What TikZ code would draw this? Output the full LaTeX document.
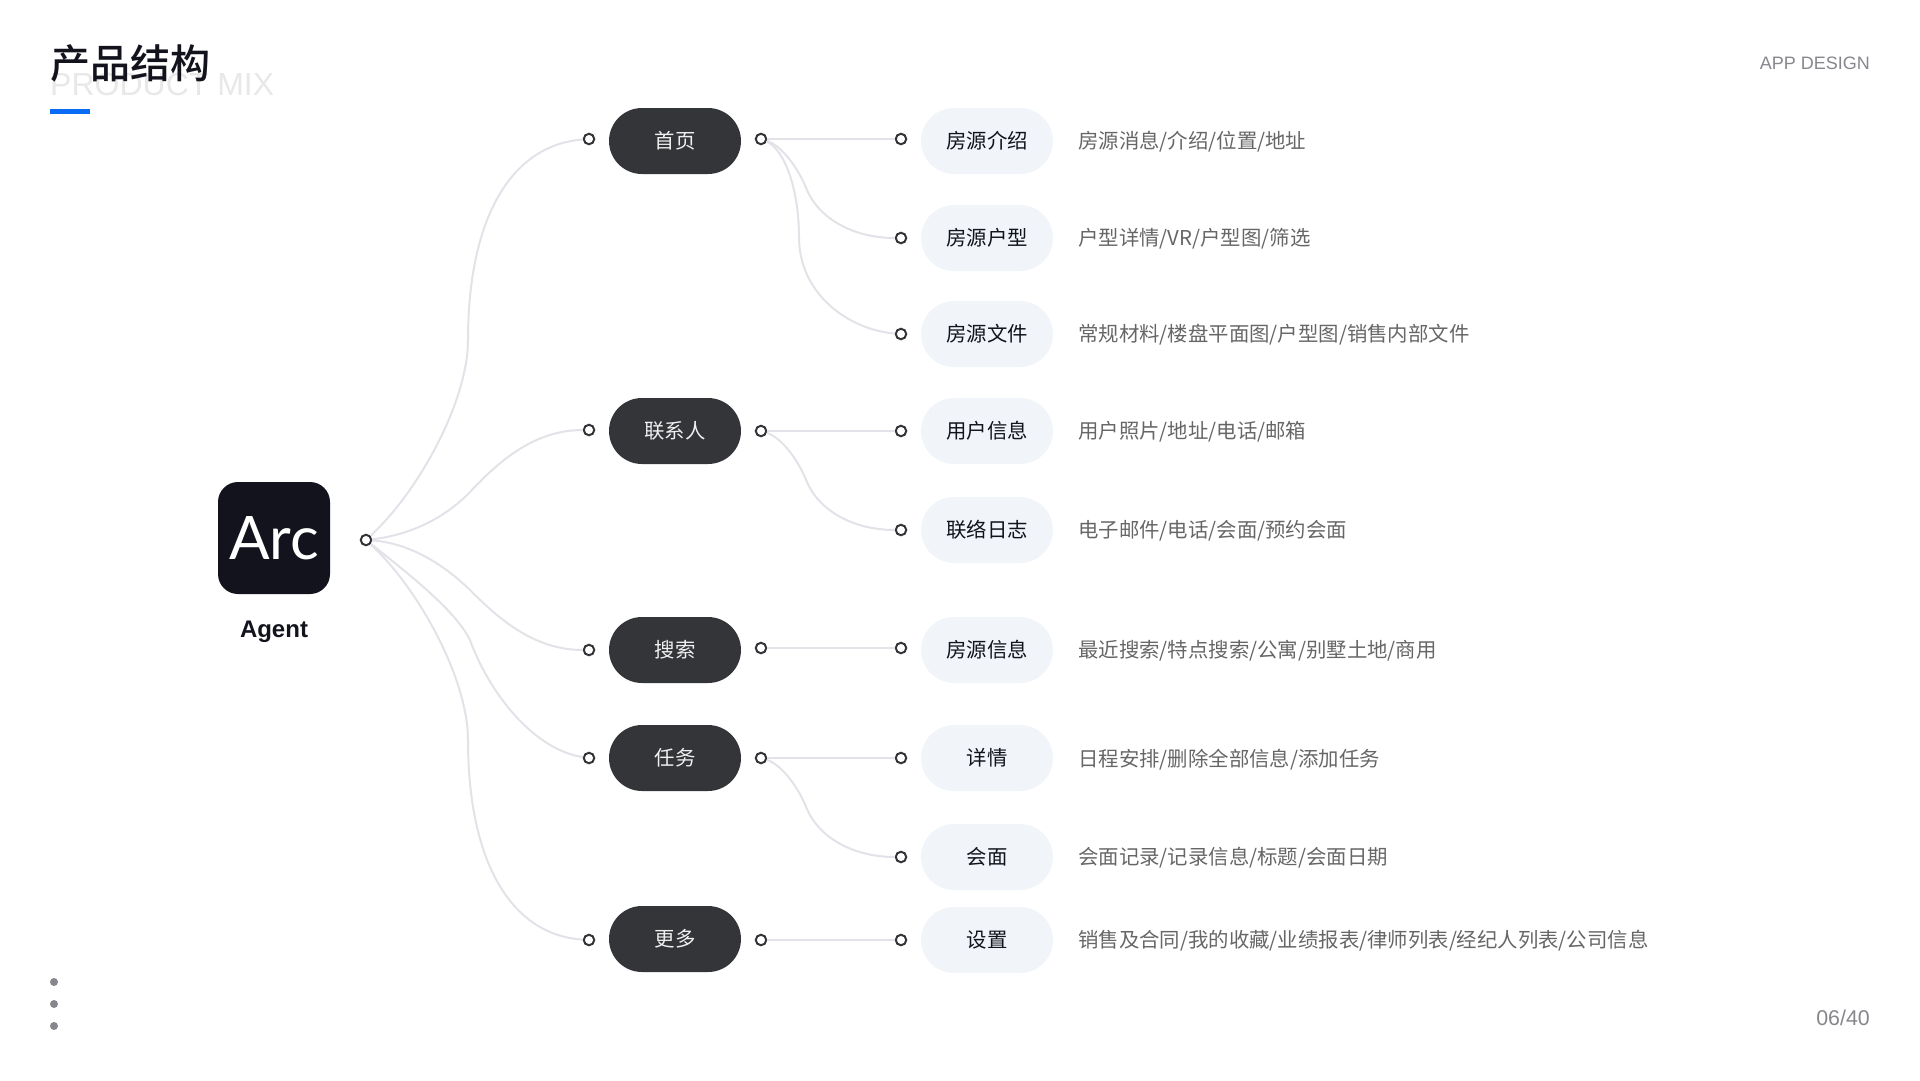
\documentclass[tikz,border=0pt]{standalone}
\usepackage{fontspec}
\setmainfont{Noto Sans CJK SC}
\newfontfamily\titlefont{Noto Sans CJK SC Medium}
\newfontfamily\latinfont{Liberation Sans}
\newfontfamily\logofont{Lato}
\definecolor{inkdark}{HTML}{12131C}
\definecolor{pilldark}{HTML}{333538}
\definecolor{pilllight}{HTML}{F1F4F8}
\definecolor{linkgrey}{HTML}{E2E2E8}
\definecolor{textgrey}{HTML}{666666}
\definecolor{cornergrey}{HTML}{86868C}
\definecolor{barblue}{HTML}{0A6CF5}
\tikzset{
  darkpill/.style={fill=pilldark,text=white!94!black,rounded corners=33pt,minimum width=132pt,minimum height=66pt,inner sep=0pt,font=\fontsize{20.4}{24}\selectfont},
  lightpill/.style={fill=pilllight,text=inkdark,rounded corners=33pt,minimum width=132pt,minimum height=66pt,inner sep=0pt,font=\fontsize{20.4}{24}\selectfont},
  port/.style={circle,draw=pilldark,line width=2pt,fill=white,minimum size=10.5pt,inner sep=0pt},
  dot/.style={circle,fill=cornergrey,minimum size=8pt,inner sep=0pt},
  desc/.style={anchor=west,inner sep=0pt,text=textgrey,font=\fontsize{20.4}{24}\selectfont},
  corner/.style={anchor=east,inner sep=0pt,text=cornergrey},
  link/.style={draw=linkgrey,line width=2pt}
}
\begin{document}
\begin{tikzpicture}[x=1pt,y=-1pt]
\useasboundingbox (0,0) rectangle (1920,1080);
\path
(50,84)node[anchor=west,inner sep=0pt,text=black!9,font=\latinfont\fontsize{32}{40}\selectfont](titleen){PRODUCT MIX}
(50,63)node[anchor=west,inner sep=0pt,text=inkdark,font=\titlefont\fontsize{40}{48}\selectfont](titlecn){产品结构}
(50,109)node[anchor=north west,fill=barblue,inner sep=0pt,minimum width=40pt,minimum height=5pt](titlebar){}
(1870,63)node[corner,font=\latinfont\fontsize{18}{24}\selectfont](chapter){APP DESIGN}
(1870,1018)node[corner,font=\latinfont\fontsize{21.4}{24}\selectfont](pageno){06/40}
(54,982)node[dot](dota){}
(54,1004)node[dot](dotb){}
(54,1026)node[dot](dotc){}
(274,538)node[fill=inkdark,rounded corners=20pt,minimum size=112pt,inner sep=0pt,text=white,font=\logofont\fontsize{60}{60}\selectfont](logo){Arc}
(274,631.5)node[inner sep=0pt,text=inkdark,font=\latinfont\bfseries\fontsize{24}{28}\selectfont](agent){Agent}
(366,540)node[port](root){}
(675,141)node[darkpill](home){首页}
(675,431)node[darkpill](contact){联系人}
(675,650)node[darkpill](search){搜索}
(675,758)node[darkpill](task){任务}
(675,939)node[darkpill](more){更多}
(987,141)node[lightpill](intro){房源介绍}
(987,238)node[lightpill](layout){房源户型}
(987,334)node[lightpill](files){房源文件}
(987,431)node[lightpill](user){用户信息}
(987,530)node[lightpill](log){联络日志}
(987,650)node[lightpill](info){房源信息}
(987,758)node[lightpill](detail){详情}
(987,857)node[lightpill](meet){会面}
(987,940)node[lightpill](setting){设置}
(1078,142)node[desc](introtxt){房源消息/介绍/位置/地址}
(1078,239)node[desc](layouttxt){户型详情/VR/户型图/筛选}
(1078,335)node[desc](filestxt){常规材料/楼盘平面图/户型图/销售内部文件}
(1078,432)node[desc](usertxt){用户照片/地址/电话/邮箱}
(1078,531)node[desc](logtxt){电子邮件/电话/会面/预约会面}
(1078,651)node[desc](infotxt){最近搜索/特点搜索/公寓/别墅土地/商用}
(1078,760)node[desc](detailtxt){日程安排/删除全部信息/添加任务}
(1078,858)node[desc](meettxt){会面记录/记录信息/标题/会面日期}
(1078,940.5)node[desc](settingtxt){销售及合同/我的收藏/业绩报表/律师列表/经纪人列表/公司信息};
\path
(589,139)node[port](homein){}
(589,430)node[port](contactin){}
(589,650)node[port](searchin){}
(589,758)node[port](taskin){}
(589,940)node[port](morein){}
(761,139)node[port](homeout){}
(761,431)node[port](contactout){}
(761,648)node[port](searchout){}
(761,758)node[port](taskout){}
(761,940)node[port](moreout){}
(901,139)node[port](introin){}
(901,238)node[port](layoutin){}
(901,334)node[port](filesin){}
(901,431)node[port](userin){}
(901,530)node[port](login){}
(901,648)node[port](infoin){}
(901,758)node[port](detailin){}
(901,857)node[port](meetin){}
(901,940)node[port](settingin){}
(468,340)coordinate(bendhome)
(470,492)coordinate(bendcontact)
(472,592)coordinate(bendsearch)
(470,640)coordinate(bendtask)
(468,740)coordinate(bendmore)
(807,190)coordinate(bendlayout)
(799,237)coordinate(bendfiles)
(807,482)coordinate(bendlog)
(807,809)coordinate(bendmeet);
\draw[link](root)..controls(420,490)and(468,400)..(bendhome)..controls(468,220)and(510,145)..(homein);
\draw[link](root)..controls(410,535)and(445,518)..(bendcontact)..controls(500,460)and(535,430)..(contactin);
\draw[link](root)..controls(410,543)and(445,565)..(bendsearch)..controls(500,620)and(535,650)..(searchin);
\draw[link](root)..controls(410,575)and(455,610)..(bendtask)..controls(490,695)and(535,750)..(taskin);
\draw[link](root)..controls(420,590)and(468,680)..(bendmore)..controls(468,860)and(510,935)..(morein);
\draw[link](homeout)--(introin);
\draw[link](homeout)..controls(780,145)and(797,165)..(bendlayout)..controls(820,220)and(855,238)..(layoutin);
\draw[link](homeout)..controls(785,150)and(799,190)..(bendfiles)..controls(799,295)and(850,330)..(filesin);
\draw[link](contactout)--(userin);
\draw[link](contactout)..controls(780,437)and(797,457)..(bendlog)..controls(820,512)and(855,530)..(login);
\draw[link](searchout)--(infoin);
\draw[link](taskout)--(detailin);
\draw[link](taskout)..controls(780,764)and(797,784)..(bendmeet)..controls(820,839)and(855,857)..(meetin);
\draw[link](moreout)--(settingin);
\end{tikzpicture}
\end{document}
